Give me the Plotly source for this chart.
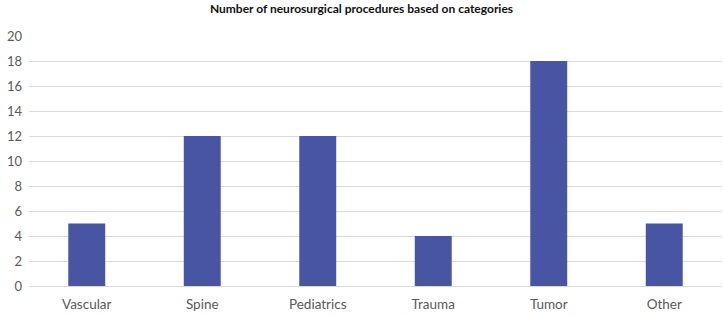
import plotly.graph_objects as go

categories = ["Vascular", "Spine", "Pediatrics", "Trauma", "Tumor", "Other"]
counts = [5, 12, 12, 4, 18, 5]
y_ticks = list(range(0, 21, 2))

fig = go.Figure(go.Bar(
    x=categories, y=counts,
    marker=dict(color="#4755A2", line=dict(width=0)),
))

fig.update_layout(
    width=723, height=316,
    margin=dict(l=29, r=1, t=36, b=30),
    plot_bgcolor="white", paper_bgcolor="white",
    bargap=0.68,
    showlegend=False,
    title=dict(text="<b>Number of neurosurgical procedures based on categories</b>",
               x=0.5, xanchor="center", y=1 - 9 / 316, yanchor="middle",
               font=dict(family="Lato", size=12, color="#111111")),
    font=dict(family="Lato", size=13, color="#595959"),
)
fig.update_yaxes(range=[0, 20], tickvals=y_ticks, showgrid=True, gridcolor="#D9D9D9",
                 gridwidth=1, zeroline=False, showline=False, ticks="",
                 tickfont=dict(size=13, color="#595959"), ticklabelstandoff=6)
fig.update_xaxes(showline=True, linecolor="#D9D9D9", linewidth=1, ticks="",
                 tickfont=dict(size=13.5, color="#595959"), ticklabelstandoff=6)

fig.write_html("out.html", config={"displayModeBar": False},
               post_script="document.body.style.margin='0';")
